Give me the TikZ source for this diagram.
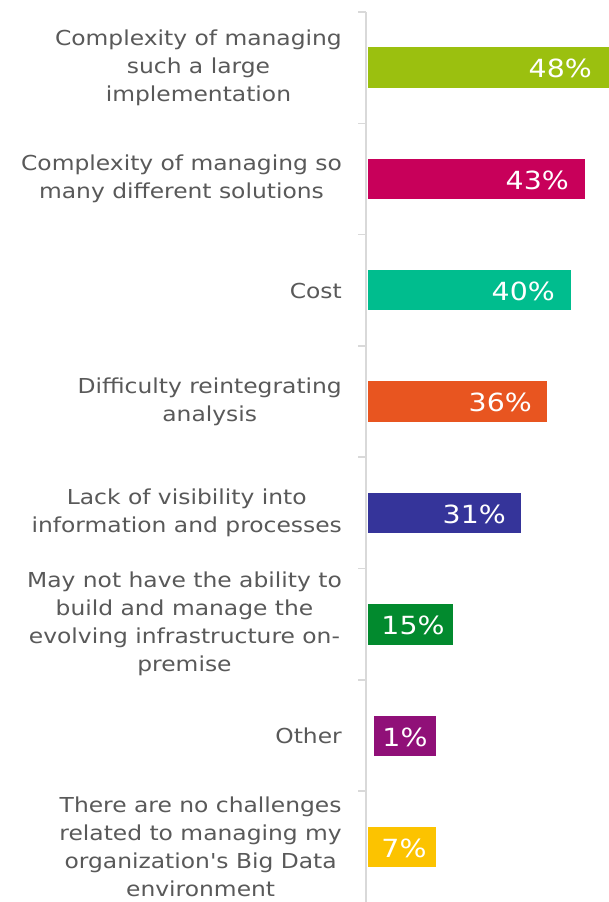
\documentclass[tikz,border=0pt]{standalone}
\usepackage{fontspec}
\setmainfont[FakeStretch=1.135,Ligatures=TeXOff]{DejaVu Sans}
\begin{document}
\begin{tikzpicture}[x=1pt,y=-1pt,
  lbl/.style={anchor=east,align=center,inner sep=0pt,text=txtgray,
    font=\fontsize{20.6}{28}\selectfont},
  pct/.style={inner sep=0pt,text=white,font=\fontsize{25}{28}\selectfont},
  axisline/.style={draw=axgray,line width=1.5pt}]
\definecolor{txtgray}{HTML}{595959}
\definecolor{axgray}{HTML}{D9D9D9}
\definecolor{cA}{HTML}{9BC00F}
\definecolor{cB}{HTML}{C8005A}
\definecolor{cC}{HTML}{00BD8E}
\definecolor{cD}{HTML}{E85520}
\definecolor{cE}{HTML}{35349A}
\definecolor{cF}{HTML}{028A2E}
\definecolor{cG}{HTML}{901078}
\definecolor{cH}{HTML}{FCC300}
\useasboundingbox[fill=white] (0,0) rectangle (609,902);
% axis
\coordinate (atop) at (366,12);
\coordinate (abot) at (366,902);
\draw[axisline] (atop) -- (abot);
\foreach \y in {12,123.3,234.6,345.9,457.2,568.5,679.8,791.1}
  \draw[axisline] (358,\y) -- (366,\y);
% bars
\fill[cA] (368,47) rectangle (609,88);
\fill[cB] (368,159) rectangle (585,199);
\fill[cC] (368,270) rectangle (571,310);
\fill[cD] (368,381) rectangle (547,422);
\fill[cE] (368,493) rectangle (521,533);
\fill[cF] (368,604) rectangle (453,645);
\fill[cG] (374,716) rectangle (436,756);
\fill[cH] (368,827) rectangle (436,867);
% percentages
\node[pct,anchor=east] (pA) at (592,68) {48\%};
\node[pct,anchor=east] (pB) at (569,180) {43\%};
\node[pct,anchor=east] (pC) at (555,291) {40\%};
\node[pct,anchor=east] (pD) at (532,402) {36\%};
\node[pct,anchor=east] (pE) at (506,514) {31\%};
\node[pct] (pF) at (413,625) {15\%};
\node[pct] (pG) at (405,737) {1\%};
\node[pct] (pH) at (404,848) {7\%};
% labels
\node[lbl] (lA) at (342,68) {Complexity of managing\\such a large\\implementation};
\node[lbl] (lB) at (342,179) {Complexity of managing so\\many different solutions};
\node[lbl] (lC) at (342,291) {Cost};
\node[lbl] (lD) at (342,402) {Difficulty reintegrating\\analysis};
\node[lbl] (lE) at (342,513) {Lack of visibility into\\information and processes};
\node[lbl] (lF) at (342,624) {May not have the ability to\\build and manage the\\evolving infrastructure on-\\premise};
\node[lbl] (lG) at (342,736) {Other};
\node[lbl] (lH) at (342,847) {There are no challenges\\related to managing my\\organization's Big Data\\environment};
\end{tikzpicture}
\end{document}
